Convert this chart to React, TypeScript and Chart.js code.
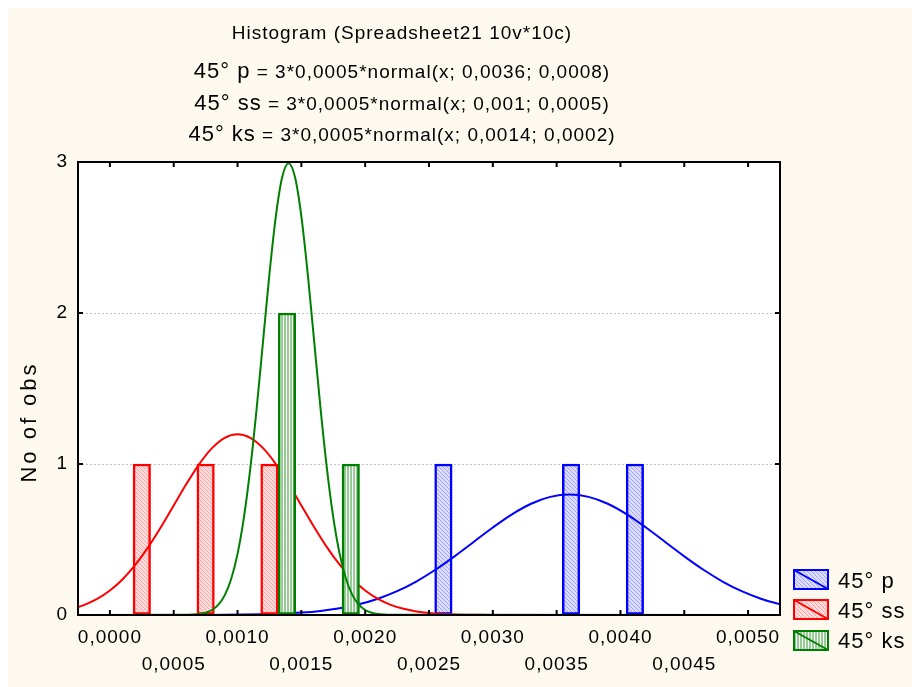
import React, { useEffect, useRef } from 'react';
import { Chart, registerables } from 'chart.js';

Chart.register(...registerables);

// ---------- data ----------
const SERIES_NAMES = ['45° p', '45° ss', '45° ks'];
const FORMULAS = [
  ' = 3*0,0005*normal(x; 0,0036; 0,0008)',
  ' = 3*0,0005*normal(x; 0,001; 0,0005)',
  ' = 3*0,0005*normal(x; 0,0014; 0,0002)',
];
const TITLE = 'Histogram (Spreadsheet21 10v*10c)';
const Y_TITLE = 'No of obs';

const X_TICKS = [0, 0.0005, 0.001, 0.0015, 0.002, 0.0025, 0.003, 0.0035, 0.004, 0.0045, 0.005];
const Y_TICKS = [0, 1, 2, 3];

// histogram bins (bin centres) and counts
const BINS_P = [0.00275, 0.00375, 0.00425];
const COUNTS_P = [1, 1, 1];
const BINS_SS = [0.00025, 0.00075, 0.00125];
const COUNTS_SS = [1, 1, 1];
const BINS_KS = [0.00125, 0.00175];
const COUNTS_KS = [2, 1];

// fitted normal curves
const CURVE_P_X = [-0.00025, 0.0006, 0.00075, 0.0009, 0.00105, 0.0012, 0.00135, 0.0015, 0.00165, 0.0018, 0.00195, 0.0021, 0.00225, 0.0024, 0.00255, 0.0027, 0.00285, 0.003, 0.00315, 0.0033, 0.00345, 0.0036, 0.00375, 0.0039, 0.00405, 0.0042, 0.00435, 0.0045, 0.00465, 0.0048, 0.00495, 0.0051, 0.00525];
const CURVE_P_Y = [0, 0.0003, 0.0006, 0.0012, 0.0025, 0.0048, 0.0089, 0.0158, 0.0272, 0.0448, 0.0709, 0.108, 0.1579, 0.2218, 0.2995, 0.3884, 0.4839, 0.5794, 0.6665, 0.7366, 0.7821, 0.7979, 0.7821, 0.7366, 0.6665, 0.5794, 0.4839, 0.3884, 0.2995, 0.2218, 0.1579, 0.108, 0.0709];

const CURVE_SS_X = [-0.00025, -0.0002, -0.0001, 0, 0.0001, 0.0002, 0.0003, 0.0004, 0.0005, 0.0006, 0.0007, 0.0008, 0.0009, 0.001, 0.0011, 0.0012, 0.0013, 0.0014, 0.0015, 0.0016, 0.0017, 0.0018, 0.0019, 0.002, 0.0021, 0.0022, 0.0023, 0.0024, 0.0025, 0.0026, 0.0027, 0.0028, 0.0029, 0.003, 0.00525];
const CURVE_SS_Y = [0.0526, 0.0672, 0.1064, 0.162, 0.2369, 0.3328, 0.4492, 0.5826, 0.7259, 0.8691, 0.9997, 1.1048, 1.1731, 1.1968, 1.1731, 1.1048, 0.9997, 0.8691, 0.7259, 0.5826, 0.4492, 0.3328, 0.2369, 0.162, 0.1064, 0.0672, 0.0408, 0.0237, 0.0133, 0.0072, 0.0037, 0.0018, 0.0009, 0.0004, 0];

const CURVE_KS_X = [-0.00025, 0.0006, 0.00065, 0.0007, 0.00075, 0.0008, 0.00085, 0.0009, 0.00095, 0.001, 0.00105, 0.0011, 0.00115, 0.0012, 0.00125, 0.0013, 0.00135, 0.0014, 0.00145, 0.0015, 0.00155, 0.0016, 0.00165, 0.0017, 0.00175, 0.0018, 0.00185, 0.0019, 0.00195, 0.002, 0.00205, 0.0021, 0.00215, 0.0022, 0.00525];
const CURVE_KS_Y = [0, 0.001, 0.0026, 0.0065, 0.0152, 0.0332, 0.0682, 0.1315, 0.238, 0.405, 0.647, 0.971, 1.37, 1.815, 2.259, 2.64, 2.9, 2.992, 2.9, 2.64, 2.259, 1.815, 1.37, 0.971, 0.647, 0.405, 0.238, 0.1315, 0.0682, 0.0332, 0.0152, 0.0065, 0.0026, 0.001, 0];

// ---------- style ----------
const BLUE = '#0000ff';
const RED = '#ff0000';
const GREEN = '#008000';
const CREAM = '#fdf9ee';
const FONT = '"Liberation Sans", Arial, sans-serif';
const BAR_OFFSET = 0.000137; // side-by-side placement inside a bin

function hatchPattern(ctx: CanvasRenderingContext2D, bg: string, fg: string) {
  const c = document.createElement('canvas');
  c.width = 4; c.height = 4;
  const g = c.getContext('2d')!;
  g.fillStyle = bg; g.fillRect(0, 0, 4, 4);
  g.fillStyle = fg;
  for (let i = 0; i < 4; i++) g.fillRect(i, i, 1, 1);
  return ctx.createPattern(c, 'repeat')!;
}
function stripePattern(ctx: CanvasRenderingContext2D, bg: string, fg: string) {
  const c = document.createElement('canvas');
  c.width = 3; c.height = 2;
  const g = c.getContext('2d')!;
  g.fillStyle = bg; g.fillRect(0, 0, 3, 2);
  g.fillStyle = fg; g.fillRect(0, 0, 2, 2);
  return ctx.createPattern(c, 'repeat')!;
}

const fmt = (v: number) => v.toFixed(4).replace('.', ',');

export default function App() {
  const ref = useRef<HTMLCanvasElement>(null);
  useEffect(() => {
    document.body.style.overflow = 'hidden';
    const canvas = ref.current!;
    const ctx0 = canvas.getContext('2d')!;
    const patP = hatchPattern(ctx0, '#dcdcff', '#a4a4f8');
    const patSS = hatchPattern(ctx0, '#ffdcdc', '#ffa4a4');
    const patKS = stripePattern(ctx0, '#ffffff', '#97cc97');
    const colors = [BLUE, RED, GREEN];
    const pats = [patP, patSS, patKS];

    const bar = (bins: number[], counts: number[], k: number, off: number, order: number) => ({
      type: 'bar' as const,
      label: SERIES_NAMES[k],
      data: bins.map((b, i) => ({ x: b + off, y: counts[i] })),
      backgroundColor: pats[k],
      borderColor: colors[k],
      borderWidth: 2.5,
      borderSkipped: false,
      grouped: false,
      barPercentage: 1,
      categoryPercentage: 1,
      order,
    });
    const line = (xs: number[], ys: number[], k: number, order: number) => ({
      type: 'line' as const,
      label: SERIES_NAMES[k] + ' fit',
      data: xs.map((x, i) => ({ x, y: ys[i] })),
      borderColor: colors[k],
      borderWidth: 2,
      pointRadius: 0,
      fill: false,
      cubicInterpolationMode: 'monotone' as const,
      order,
    });

    const decor = {
      id: 'decor',
      beforeDraw(chart: any) {
        const { ctx, chartArea: a, width, height } = chart;
        ctx.save();
        ctx.fillStyle = CREAM;
        ctx.fillRect(0, 0, width, height);
        ctx.fillStyle = '#ffffff';
        ctx.fillRect(a.left, a.top, a.right - a.left, a.bottom - a.top);
        ctx.restore();
        (ctx as any).letterSpacing = '1px';
      },
      afterDraw(chart: any) {
        const { ctx, chartArea: a } = chart;
        const xs = chart.scales.x;
        const ys = chart.scales.y;
        ctx.save();
        // frame
        ctx.strokeStyle = '#000';
        ctx.lineWidth = 2;
        ctx.strokeRect(a.left, a.top, a.right - a.left, a.bottom - a.top);
        // inward ticks
        ctx.beginPath();
        X_TICKS.forEach((v) => {
          const p = xs.getPixelForValue(v);
          ctx.moveTo(p, a.bottom); ctx.lineTo(p, a.bottom - 5);
          ctx.moveTo(p, a.top); ctx.lineTo(p, a.top + 5);
        });
        Y_TICKS.forEach((v) => {
          const p = ys.getPixelForValue(v);
          ctx.moveTo(a.left, p); ctx.lineTo(a.left + 5, p);
          ctx.moveTo(a.right, p); ctx.lineTo(a.right - 5, p);
        });
        ctx.stroke();

        ctx.fillStyle = '#000';
        (ctx as any).letterSpacing = '1px';
        // title
        ctx.font = `19px ${FONT}`;
        ctx.textAlign = 'center';
        ctx.textBaseline = 'alphabetic';
        ctx.fillText(TITLE, 394, 31);
        // formula lines
        const baselines = [70, 102, 133];
        ctx.textAlign = 'left';
        SERIES_NAMES.forEach((name, i) => {
          ctx.font = `22px ${FONT}`;
          const w1 = ctx.measureText(name).width;
          ctx.font = `19px ${FONT}`;
          const w2 = ctx.measureText(FORMULAS[i]).width;
          const x0 = 394 - (w1 + w2) / 2;
          ctx.font = `22px ${FONT}`;
          ctx.fillText(name, x0, baselines[i]);
          ctx.font = `19px ${FONT}`;
          ctx.fillText(FORMULAS[i], x0 + w1, baselines[i]);
        });
        // y axis title
        ctx.save();
        ctx.translate(22, 414);
        ctx.rotate(-Math.PI / 2);
        ctx.textAlign = 'center';
        ctx.textBaseline = 'middle';
        (ctx as any).letterSpacing = '3px';
        ctx.font = `22px ${FONT}`;
        ctx.fillText(Y_TITLE, 0, 0);
        ctx.restore();
        (ctx as any).letterSpacing = '1px';
        // legend
        const tops = [561, 591, 622];
        const textBase = [580, 610, 640];
        SERIES_NAMES.forEach((name, i) => {
          const x = 785, y = tops[i], w = 36, h = 21;
          ctx.fillStyle = pats[i];
          ctx.fillRect(x, y, w, h);
          ctx.strokeStyle = colors[i];
          ctx.lineWidth = 2;
          ctx.strokeRect(x + 1, y + 1, w - 2, h - 2);
          ctx.beginPath();
          ctx.moveTo(x + 1, y + 1);
          ctx.lineTo(x + w - 1, y + h - 1);
          ctx.stroke();
          ctx.fillStyle = '#000';
          ctx.font = `22px ${FONT}`;
          ctx.textAlign = 'left';
          ctx.textBaseline = 'alphabetic';
          ctx.fillText(name, 830, textBase[i]);
        });
        ctx.restore();
      },
    };

    const chart = new Chart(canvas, {
      type: 'bar',
      data: {
        datasets: [
          bar(BINS_P, COUNTS_P, 0, -BAR_OFFSET, 6),
          line(CURVE_P_X, CURVE_P_Y, 0, 5),
          bar(BINS_SS, COUNTS_SS, 1, 0, 4),
          line(CURVE_SS_X, CURVE_SS_Y, 1, 3),
          bar(BINS_KS, COUNTS_KS, 2, BAR_OFFSET, 2),
          line(CURVE_KS_X, CURVE_KS_Y, 2, 1),
        ] as any,
      },
      options: {
        animation: false,
        responsive: false,
        events: [],
        layout: { padding: { top: 154, right: 132, left: 0, bottom: 0 } },
        plugins: { legend: { display: false }, tooltip: { enabled: false } },
        scales: {
          x: {
            type: 'linear',
            min: -0.00025,
            max: 0.00525,
            offset: false,
            grid: { display: false, offset: false, drawTicks: false },
            border: { display: false },
            afterBuildTicks: (s: any) => { s.ticks = X_TICKS.map((v) => ({ value: v })); },
            afterFit: (s: any) => { s.height = 72; },
            ticks: {
              autoSkip: false,
              maxRotation: 0,
              minRotation: 0,
              padding: 9,
              color: '#000',
              font: { family: FONT, size: 19, lineHeight: 1.42 },
              callback: (v: any, i: number) => (i % 2 === 0 ? fmt(Number(v)) : ['', fmt(Number(v))]),
            },
          },
          y: {
            type: 'linear',
            min: 0,
            max: 3,
            grid: {
              drawTicks: false,
              lineWidth: 1,
              color: (c: any) => (c.tick && (c.tick.value === 1 || c.tick.value === 2) ? '#c4c4c4' : 'rgba(0,0,0,0)'),
            },
            border: { display: false, dash: [2, 2] },
            afterBuildTicks: (s: any) => { s.ticks = Y_TICKS.map((v) => ({ value: v })); },
            afterFit: (s: any) => { s.width = 70; },
            ticks: {
              padding: 10,
              color: '#000',
              font: { family: FONT, size: 19 },
              callback: (v: any) => String(v),
            },
          },
        },
      } as any,
      plugins: [decor],
    });
    return () => chart.destroy();
  }, []);

  return (
    <div style={{ position: 'absolute', left: 8, top: 8, width: 904, height: 679 }}>
      <canvas ref={ref} width={904} height={679} style={{ display: 'block' }} />
    </div>
  );
}
